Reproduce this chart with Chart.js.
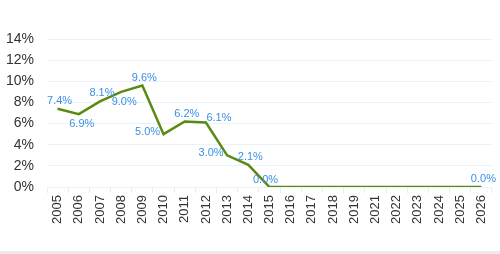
<!DOCTYPE html>
<html>
<head>
<meta charset="utf-8">
<script src="https://cdn.jsdelivr.net/npm/chart.js@4"></script>
<style>
  html, body { margin: 0; padding: 0; background: #fff; }
  #wrap { position: relative; width: 500px; height: 251px; }
  #foot { width: 500px; height: 3px; background: #ececec; }
</style>
</head>
<body>
<div id="wrap"><canvas id="linhas"></canvas></div>
<div id="foot"></div>
<script>
const years = ['2005', '2006', '2007', '2008', '2009', '2010', '2011', '2012', '2013', '2014',
  '2015', '2016', '2017', '2018', '2019', '2021', '2022', '2023', '2024', '2025', '2026'];
const rates = [7.4, 6.9, 8.1, 9.0, 9.6, 5.0, 6.2, 6.1, 3.0, 2.1,
  0.0, 0.0, 0.0, 0.0, 0.0, 0.0, 0.0, 0.0, 0.0, 0.0, 0.0];
// which points get a value label, and on which side
const labelSide = ['top', 'bottom', 'top', 'bottom', 'top', 'left', 'top', 'topright', 'left', 'top',
  'topleft', null, null, null, null, null, null, null, null, null, 'top'];

const sideOffset = {
  top: [2, -8],
  bottom: [3, 10],
  left: [-16, -2],
  topright: [13, -5],
  topleft: [-4, -7],
};

function formatPct(v) {
  return v.toFixed(1) + '%';
}

const valueLabels = {
  id: 'valueLabels',
  afterDatasetsDraw(chart) {
    const ctx = chart.ctx;
    const meta = chart.getDatasetMeta(0);
    ctx.save();
    ctx.font = '11px "Liberation Sans", Arial, sans-serif';
    ctx.fillStyle = '#3990e6';
    ctx.textAlign = 'center';
    ctx.textBaseline = 'middle';
    meta.data.forEach((pt, i) => {
      const side = labelSide[i];
      if (!side) return;
      const off = sideOffset[side];
      ctx.fillText(formatPct(rates[i]), pt.x + off[0], pt.y + off[1]);
    });
    ctx.restore();
  },
};

const chart = new Chart(document.getElementById('linhas'), {
  type: 'line',
  data: {
    labels: years,
    datasets: [{
      data: rates,
      borderColor: '#5a8a12',
      borderWidth: 2.5,
      pointRadius: 0,
      fill: false,
      tension: 0,
    }],
  },
  options: {
    responsive: true,
    maintainAspectRatio: false,
    animation: false,
    layout: { padding: { top: 39, right: 8, left: 0, bottom: 25 } },
    plugins: {
      legend: { display: false },
      tooltip: { enabled: false },
    },
    scales: {
      x: {
        offset: true,
        grid: {
          display: true,
          drawOnChartArea: false,
          drawTicks: true,
          tickLength: 6,
          color: '#e3eef9',
          offset: true,
        },
        border: { display: false },
        ticks: {
          color: '#333',
          font: { size: 13, family: '"Liberation Sans", Arial, sans-serif' },
          minRotation: 90,
          maxRotation: 90,
          autoSkip: false,
          padding: 2,
        },
      },
      y: {
        min: 0,
        max: 14,
        afterFit: (scale) => { scale.width = 47; },
        grid: { color: '#e9f1fa', drawTicks: false },
        border: { display: false },
        ticks: {
          stepSize: 2,
          color: '#333',
          padding: 13,
          font: { size: 14, family: '"Liberation Sans", Arial, sans-serif' },
          callback: (v) => v + '%',
        },
      },
    },
  },
  plugins: [valueLabels],
});
</script>
</body>
</html>
